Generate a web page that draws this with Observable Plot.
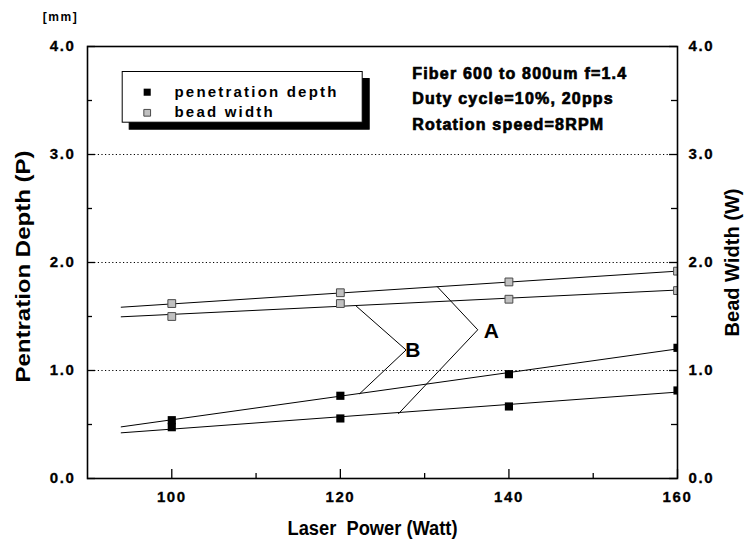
<!DOCTYPE html>
<html>
<head>
<meta charset="utf-8">
<script src="https://cdn.jsdelivr.net/npm/d3@7"></script>
<script src="https://cdn.jsdelivr.net/npm/@observablehq/plot@0.6"></script>
<style>
  html, body { margin: 0; padding: 0; background: #fff; }
  #chart { width: 748px; height: 550px; }
</style>
</head>
<body>
<div id="chart"></div>
<script>
// ---- data ----
const powers = [100, 120, 140, 160];
// Series A (upper bead-width line / lower penetration line)
const beadA = [1.62, 1.72, 1.82, 1.92];
const penA  = [0.475, 0.556, 0.667, 0.815];
// Series B (lower bead-width line / upper penetration line)
const beadB = [1.50, 1.62, 1.66, 1.74];
const penB  = [0.54, 0.766, 0.966, 1.21];

// fitted lines (end values)
const fitX = [94, 160];
const fitBeadA = [1.586, 1.92];
const fitBeadB = [1.497, 1.745];
const fitPenA  = [0.423, 0.80];
const fitPenB  = [0.478, 1.20];

// leader lines for the A and B labels
const leaderAx = [131.5, 136.3, 126.9];
const leaderAy = [1.776, 1.377, 0.60];
const leaderBx = [121.9, 127.8, 122.3];
const leaderBy = [1.595, 1.19, 0.786];
const labelA = {x: 137.9, y: 1.36, text: "A"};
const labelB = {x: 128.6, y: 1.19, text: "B"};

const xMajor = [100, 120, 140, 160];
const xMinor = [110, 130, 150];
const yMajor = [0, 1, 2, 3, 4];
const yMinor = [0.5, 1.5, 2.5, 3.5];
const gridY = [1, 2, 3];

const legendLabels = ["penetration depth", "bead width"];
const noteLines = ["Fiber 600 to 800um f=1.4", "Duty cycle=10%, 20pps", "Rotation speed=8RPM"];
const xTitle = "Laser  Power (Watt)";
const yTitle = "Pentration Depth (P)";
const y2Title = "Bead Width (W)";
const unitLabel = "[mm]";

// ---- layout ----
const W = 748, H = 550;
const mL = 87, mR = 71, mT = 46, mB = 72;
const fW = W - mL - mR, fH = H - mT - mB;

const pts = (xs, ys) => xs.map((x, i) => ({x, y: ys[i]}));
const FONT = "'Liberation Sans', Arial, Helvetica, sans-serif";

const grayFill = "#c0c0c0", grayStroke = "#4a4a4a";

const svg = Plot.plot({
  width: W, height: H,
  marginLeft: mL, marginRight: mR, marginTop: mT, marginBottom: mB,
  x: {domain: [90, 160], axis: null},
  y: {domain: [0, 4], axis: null},
  style: {fontFamily: FONT, fontWeight: "bold", background: "white", color: "black"},
  marks: [
    // gridlines
    Plot.ruleY(gridY, {y: d => d, stroke: "black", strokeWidth: 1, strokeDasharray: "1.2,2.4"}),
    // fitted lines
    Plot.line(pts(fitX, fitBeadA), {x: "x", y: "y", stroke: "black", strokeWidth: 1}),
    Plot.line(pts(fitX, fitBeadB), {x: "x", y: "y", stroke: "black", strokeWidth: 1}),
    Plot.line(pts(fitX, fitPenA), {x: "x", y: "y", stroke: "black", strokeWidth: 1}),
    Plot.line(pts(fitX, fitPenB), {x: "x", y: "y", stroke: "black", strokeWidth: 1}),
    // leaders
    Plot.line(pts(leaderAx, leaderAy), {x: "x", y: "y", stroke: "black", strokeWidth: 1}),
    Plot.line(pts(leaderBx, leaderBy), {x: "x", y: "y", stroke: "black", strokeWidth: 1}),
    Plot.text([labelA, labelB], {x: "x", y: "y", text: "text", fontSize: 21, fontWeight: "bold", fontFamily: FONT, fill: "black"}),
    // data points
    Plot.dot(pts(powers, beadA), {x: "x", y: "y", symbol: "square", r: 4.4, fill: grayFill, stroke: grayStroke, strokeWidth: 1, clip: true}),
    Plot.dot(pts(powers, beadB), {x: "x", y: "y", symbol: "square", r: 4.4, fill: grayFill, stroke: grayStroke, strokeWidth: 1, clip: true}),
    Plot.dot(pts(powers, penA), {x: "x", y: "y", symbol: "square", r: 4.6, fill: "black", clip: true}),
    Plot.dot(pts(powers, penB), {x: "x", y: "y", symbol: "square", r: 4.6, fill: "black", clip: true}),
    // legend box with shadow
    Plot.frame({insetLeft: 41.7, insetTop: 32, insetRight: 308.3, insetBottom: 349.3, fill: "black", stroke: "black"}),
    Plot.frame({insetLeft: 34.7, insetTop: 25, insetRight: 315.3, insetBottom: 356.3, fill: "white", stroke: "black", strokeWidth: 1}),
    Plot.dot([0], {frameAnchor: "top-left", dx: 59.7, dy: 45.7, symbol: "square", r: 4, fill: "black"}),
    Plot.dot([0], {frameAnchor: "top-left", dx: 59.7, dy: 66.3, symbol: "square", r: 3.8, fill: grayFill, stroke: grayStroke, strokeWidth: 1}),
    Plot.text([legendLabels[0]], {frameAnchor: "top-left", dx: 87, dy: 45.5, text: d => d, textAnchor: "start", lineAnchor: "middle", fontSize: 15, ariaDescription: "legendtext"}),
    Plot.text([legendLabels[1]], {frameAnchor: "top-left", dx: 87, dy: 66, text: d => d, textAnchor: "start", lineAnchor: "middle", fontSize: 15, ariaDescription: "legendtext"}),
    // note text
    Plot.text([noteLines.join("\n")], {frameAnchor: "top-left", dx: 324.7, dy: 49.5, text: d => d, textAnchor: "start", lineAnchor: "middle", lineHeight: 1.6, fontSize: 16, ariaDescription: "note"}),
    // frame
    Plot.frame({stroke: "black", strokeWidth: 1.6}),
    // ticks (inward)
    Plot.tickX(xMajor, {x: d => d, insetTop: fH - 9, stroke: "black", strokeWidth: 1.3}),
    Plot.tickX(xMinor, {x: d => d, insetTop: fH - 5, stroke: "black", strokeWidth: 1.3}),
    Plot.tickY(yMajor, {y: d => d, insetRight: fW - 8, stroke: "black", strokeWidth: 1.3}),
    Plot.tickY(yMinor, {y: d => d, insetRight: fW - 5, stroke: "black", strokeWidth: 1.3}),
    Plot.tickY(yMajor, {y: d => d, insetLeft: fW - 8, stroke: "black", strokeWidth: 1.3}),
    Plot.tickY(yMinor, {y: d => d, insetLeft: fW - 6, stroke: "black", strokeWidth: 1.3}),
    // tick labels
    Plot.text(xMajor, {x: d => d, frameAnchor: "bottom", dy: 19, lineAnchor: "middle", text: d => String(d), fontSize: 15, ariaDescription: "ticklabel"}),
    Plot.text(yMajor, {y: d => d, frameAnchor: "left", dx: -12, lineAnchor: "middle", text: d => d.toFixed(1), textAnchor: "end", fontSize: 15, ariaDescription: "ticklabel"}),
    Plot.text(yMajor, {y: d => d, frameAnchor: "right", dx: 11, lineAnchor: "middle", text: d => d.toFixed(1), textAnchor: "start", fontSize: 15, ariaDescription: "ticklabel"}),
    // titles
    Plot.text([xTitle], {frameAnchor: "bottom", dx: -10, dy: 50, lineAnchor: "middle", textAnchor: "middle", text: d => d, fontSize: 20, ariaDescription: "xtitle"}),
    Plot.text([yTitle], {frameAnchor: "left", dx: -64, dy: 4, lineAnchor: "middle", textAnchor: "middle", text: d => d, rotate: -90, fontSize: 20, ariaDescription: "ytitle"}),
    Plot.text([y2Title], {frameAnchor: "right", dx: 55, lineAnchor: "middle", textAnchor: "middle", text: d => d, rotate: -90, fontSize: 20, ariaDescription: "y2title"}),
    Plot.text([unitLabel], {frameAnchor: "top-left", dx: -27, dy: -29, lineAnchor: "middle", textAnchor: "middle", text: d => d, fontSize: 12, ariaDescription: "unit"})
  ]
});

const s = d3.select(svg);
s.selectAll('g[aria-description="ticklabel"] text').style("letter-spacing", "1.6px").attr("stroke", "black").attr("stroke-width", 0.3);
s.selectAll('g[aria-description="legendtext"] text').style("letter-spacing", "2.2px");
s.selectAll('g[aria-description="note"] text').style("letter-spacing", "1.2px").attr("stroke", "black").attr("stroke-width", 0.7);
s.selectAll('g[aria-description="unit"] text').style("letter-spacing", "1.5px");
s.selectAll('g[aria-description="xtitle"] text').attr("textLength", 170).attr("lengthAdjust", "spacingAndGlyphs");
s.selectAll('g[aria-description="ytitle"] text').attr("textLength", 232).attr("lengthAdjust", "spacingAndGlyphs");
s.selectAll('g[aria-description="y2title"] text').attr("textLength", 148).attr("lengthAdjust", "spacingAndGlyphs");

document.getElementById("chart").appendChild(svg);
</script>
</body>
</html>
